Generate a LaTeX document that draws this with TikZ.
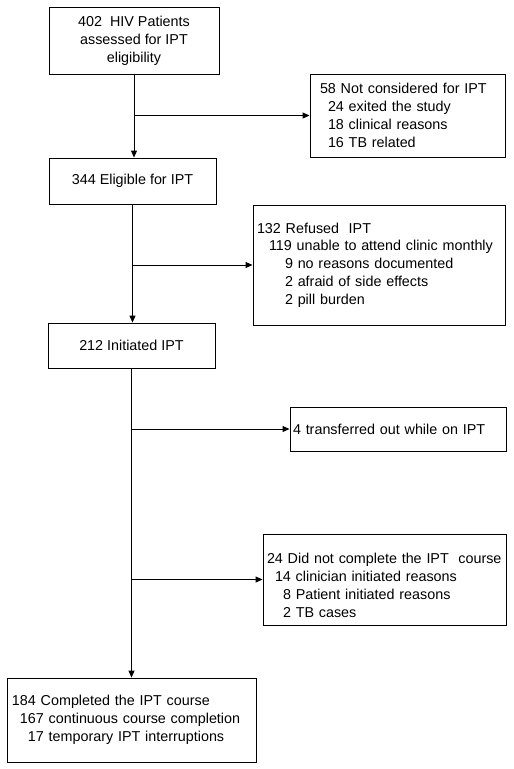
\documentclass[tikz,border=0pt]{standalone}
\usepackage{fontspec}
\setmainfont{Liberation Sans}
\usetikzlibrary{arrows.meta}
\newcommand\oneline[1]{\mbox{#1}}
\begin{document}
\begin{tikzpicture}[x=1pt,y=-1pt,
 box/.style={draw=black, line width=0.9pt, inner ysep=0pt, font=\fontsize{14.35}{17.8}\selectfont},
 arr/.style={draw=black, line width=0.9pt, -{Triangle[length=7pt,width=6pt]}}]
\useasboundingbox[fill=white] (0,0) rectangle (514,769);
\node[box, minimum width=170pt, minimum height=67pt, align=center] (b1) at (134,40.5)
  {402\ \ HIV Patients\\assessed for IPT\\eligibility};
\node[box, minimum height=83pt, text width=175pt, inner xsep=10pt, align=left] (b2) at (407.5,115.5)
  {\oneline{58 Not considered for IPT}\\
   \oneline{\hspace*{8pt}24 exited the study}\\
   \oneline{\hspace*{8pt}18 clinical reasons}\\
   \oneline{\hspace*{8pt}16 TB related}};
\node[box, minimum width=167pt, minimum height=46pt, align=center] (b3) at (132.5,181)
  {344 Eligible for IPT};
\node[box, minimum height=120pt, text width=244pt, inner xsep=4pt, align=left] (b4) at (379,265)
  {\oneline{132 Refused\ \ IPT}\\
   \oneline{\hspace*{12pt}119 unable to attend clinic monthly}\\
   \oneline{\hspace*{28pt}9 no reasons documented}\\
   \oneline{\hspace*{28pt}2 afraid of side effects}\\
   \oneline{\hspace*{28pt}2 pill burden}};
\node[box, minimum width=167pt, minimum height=45pt, align=center] (b5) at (131.5,345.5)
  {212 Initiated IPT};
\node[box, minimum height=44pt, text width=210pt, inner xsep=3pt, align=left] (b6) at (398,429)
  {\oneline{4 transferred out while on IPT}};
\node[box, minimum height=91pt, text width=235pt, inner xsep=4pt, align=left] (b7) at (384.5,579.5)
  {\oneline{\rule{0pt}{22pt}24 Did not complete the IPT\ \ course}\\
   \oneline{\hspace*{8pt}14 clinician initiated reasons}\\
   \oneline{\hspace*{16pt}8 Patient initiated reasons}\\
   \oneline{\hspace*{16pt}2 TB cases}};
\node[box, minimum height=84pt, text width=239pt, inner xsep=5pt, align=left] (b8) at (131.5,720)
  {\oneline{184 Completed the IPT course}\\
   \oneline{\hspace*{8pt}167 continuous course completion}\\
   \oneline{\hspace*{16pt}17 temporary IPT interruptions}};
\coordinate (j1) at (b1.south |- b2.west);
\coordinate (j2) at (b3.south |- b4.west);
\coordinate (j3) at (b5.south |- b6.west);
\coordinate (j4) at (b5.south |- b7.west);
\draw[arr] (b1.south) -- (b1.south |- b3.north);
\draw[arr] (j1) -- (b2.west);
\draw[arr] (b3.south) -- (b3.south |- b5.north);
\draw[arr] (j2) -- (b4.west);
\draw[arr] (b5.south) -- (b5.south |- b8.north);
\draw[arr] (j3) -- (b6.west);
\draw[arr] (j4) -- (b7.west);
\end{tikzpicture}
\end{document}
